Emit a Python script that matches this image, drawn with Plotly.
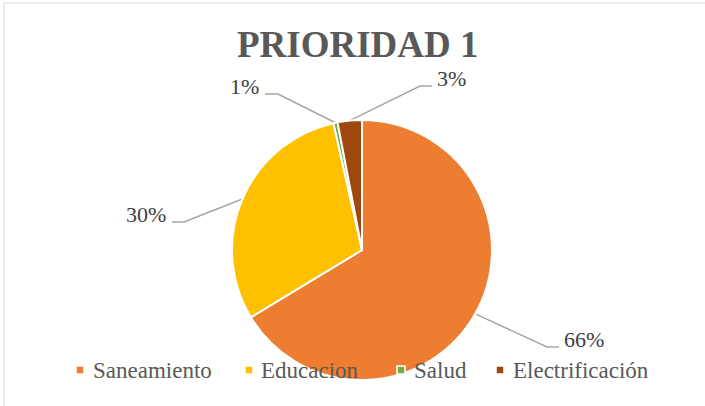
import math
import plotly.graph_objects as go

# ---- data ----
categories = ["Saneamiento", "Educacion", "Salud", "Electrificación"]
values = [132, 60, 1, 6]
colors = ["#ED7D31", "#FFC000", "#70AD47", "#9E480E"]
title_text = "PRIORIDAD 1"

W, H = 705, 406
SERIF = "Liberation Serif"
# pie geometry (pixels)
CX, CY, R = 362, 250, 130

# label layout: elbow point, end of horizontal segment, text anchor side
label_layout = [
    dict(elbow=(547, 347), end=(559, 347), side="left"),
    dict(elbow=(184, 222), end=(172, 222), side="right"),
    dict(elbow=(278, 94), end=(265, 94), side="right"),
    dict(elbow=(420, 86), end=(432, 86), side="left"),
]
# legend layout: marker centre x and text start x (pixels), row centre y
legend_marker_x = [80, 249, 401, 500]
legend_text_x = [91, 259, 412, 511]
LEG_Y = 370
MK = 4  # half marker size

fig = go.Figure()

fig.add_trace(go.Pie(
    labels=categories, values=values, sort=False, direction="clockwise", rotation=0,
    marker=dict(colors=colors, line=dict(color="white", width=2)),
    textinfo="none", hoverinfo="label+percent",
    domain=dict(x=[(CX - R) / W, (CX + R) / W], y=[(H - CY - R) / H, (H - CY + R) / H]),
    showlegend=False,
))

total = sum(values)
cum = 0
annotations = []
shapes = [dict(type="rect", xref="x", yref="y", x0=4, y0=3, x1=W + 20, y1=H + 20,
               line=dict(color="#D9D9D9", width=1), layer="below")]
for v, lay in zip(values, label_layout):
    mid = (cum + v / 2) / total * 2 * math.pi
    cum += v
    sx = CX + R * math.sin(mid)
    sy = CY - R * math.cos(mid)
    ex, ey = lay["elbow"]
    fx, fy = lay["end"]
    fig.add_trace(go.Scatter(
        x=[sx, ex, fx], y=[sy, ey, fy], mode="lines",
        line=dict(color="#A6A6A6", width=1.5), hoverinfo="skip", showlegend=False,
        xaxis="x", yaxis="y",
    ))
    pct = f"{round(v / total * 100 + 1e-9):.0f}%"
    if lay["side"] == "left":
        tx, anchor = fx + 3, "left"
    else:
        tx, anchor = fx - 4, "right"
    annotations.append(dict(
        x=tx, y=fy - 8, xref="x", yref="y", text=pct, showarrow=False,
        xanchor=anchor, yanchor="middle",
        font=dict(family=SERIF, size=22, color="#404040"),
    ))

# custom legend (square markers drawn above the pie + texts)
for cat, col, mx, tx in zip(categories, colors, legend_marker_x, legend_text_x):
    shapes.append(dict(
        type="rect", xref="x", yref="y", x0=mx - MK, x1=mx + MK, y0=LEG_Y - MK, y1=LEG_Y + MK,
        fillcolor=col, line=dict(color="white", width=1.5), layer="above",
    ))
    annotations.append(dict(
        x=tx, y=LEG_Y, xref="x", yref="y", text=cat, showarrow=False,
        xanchor="left", yanchor="middle",
        font=dict(family=SERIF, size=23, color="#595959"),
    ))

annotations.append(dict(
    x=358, y=44, xref="x", yref="y", text="<b>" + title_text + "</b>", showarrow=False,
    xanchor="center", yanchor="middle",
    font=dict(family=SERIF, size=37, color="#595959"),
))

fig.update_layout(
    width=W, height=H,
    margin=dict(l=0, r=0, t=0, b=0),
    paper_bgcolor="white", plot_bgcolor="rgba(0,0,0,0)",
    xaxis=dict(range=[0, W], visible=False, fixedrange=True),
    yaxis=dict(range=[H, 0], visible=False, fixedrange=True),
    annotations=annotations,
    shapes=shapes,
    showlegend=False,
)

fig.write_html("out.html", config={"displayModeBar": False},
               post_script="document.body.style.margin='0px';")
